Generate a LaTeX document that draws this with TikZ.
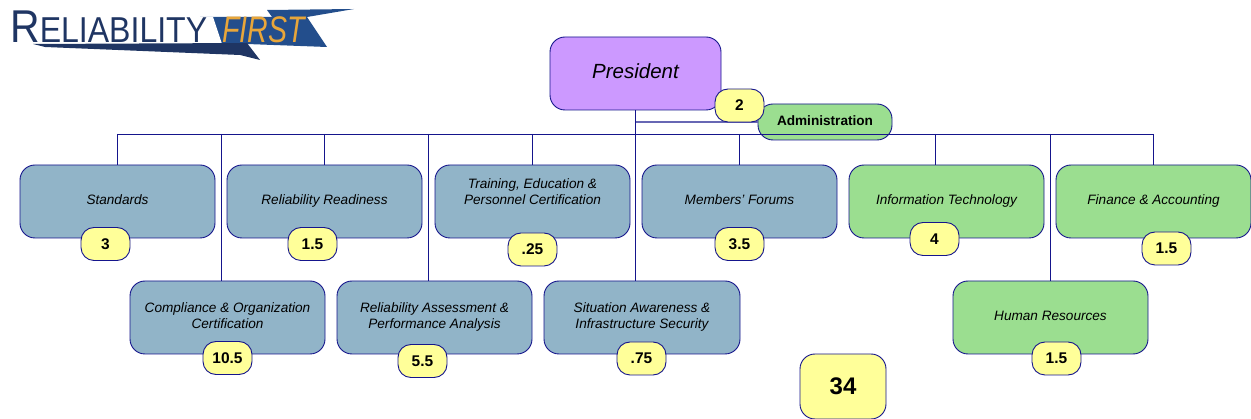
\documentclass[tikz,border=0pt]{standalone}
\usepackage{fontspec}
\usepackage{graphicx}
\setmainfont{Liberation Sans}
\definecolor{navy}{HTML}{15158C}
\definecolor{bluebox}{HTML}{91B4C8}
\definecolor{greenbox}{HTML}{9BDE90}
\definecolor{purplebox}{HTML}{CC99FF}
\definecolor{yellowbox}{HTML}{FFFF99}
\definecolor{logoblue}{HTML}{234E8C}
\definecolor{logodark}{HTML}{1F3563}
\definecolor{logoorange}{HTML}{E8A63A}
\newcommand\lblstrut{\rule[-4.6pt]{0pt}{15.6pt}}
\tikzset{
  x=1pt,y=-1pt,
  box/.style={draw=navy,line width=0.9pt,rounded corners=15pt,minimum width=195pt,minimum height=73pt,inner sep=0pt,align=center,font=\fontsize{13.6}{16}\selectfont\itshape,execute at begin node=\lblstrut,execute at end node=\lblstrut},
  bluenode/.style={box,fill=bluebox},
  greennode/.style={box,fill=greenbox},
  badge/.style={draw=navy,line width=0.9pt,fill=yellowbox,rounded corners=13pt,minimum width=49pt,minimum height=33pt,inner sep=0pt,font=\fontsize{15.5}{17}\selectfont\bfseries},
  conn/.style={draw=navy,line width=0.8pt},
  connlight/.style={draw=navy!65,line width=1.2pt}
}
\begin{document}
\begin{tikzpicture}
\useasboundingbox (0,0) rectangle (1251,419);
% logo
\fill[logoblue] (200,17) -- (307,17) -- (327,47) -- (220,43) -- cycle;
\fill[logoblue] (267,10) -- (354,9) -- (307,17) -- (272,17) -- cycle;
\fill[white] (200,17) -- (213,17) -- (222,44) -- (190,44) -- cycle;
\fill[logodark] (33,44) -- (247,43) -- (260,60) -- (240,55) -- (45,47) -- cycle;
\node[anchor=base west,inner sep=0pt,text=logodark] (logotext) at (10,43) {\scalebox{0.89}[1]{\fontsize{46}{46}\selectfont R\fontsize{36}{36}\selectfont ELIABILITY}};
\node[anchor=base west,inner sep=0pt,text=logoorange] (logofirst) at (222,43) {\scalebox{0.77}[1]{\fontsize{37}{37}\selectfont\itshape FIRST}};
% president and administration
\node[box,fill=purplebox,minimum width=171pt,font=\fontsize{20.5}{24}\selectfont\itshape] (pres) at (635.5,73.5) {President};
\node[box,fill=greenbox,minimum width=134pt,minimum height=36pt,font=\fontsize{13.6}{16}\selectfont\bfseries] (admin) at (825,122) {Administration};
% upper row
\node[bluenode] (std) at (117.5,201.5) {Standards};
\node[bluenode] (rr) at (324.5,201.5) {Reliability Readiness};
\node[bluenode] (tr) at (532.5,201.5) {Training, Education \&\\Personnel Certification\\\mbox{}};
\node[bluenode] (mf) at (739.5,201.5) {Members’ Forums};
\node[greennode] (it) at (946.5,201.5) {Information Technology};
\node[greennode] (fa) at (1153.5,201.5) {Finance \& Accounting};
% lower row
\node[bluenode] (co) at (227.5,317.5) {Compliance \& Organization\\Certification};
\node[bluenode] (ra) at (434.5,317.5) {Reliability Assessment \&\\Performance Analysis};
\node[bluenode,minimum width=196pt] (sa) at (642,317.5) {Situation Awareness \&\\Infrastructure Security};
\node[greennode] (hr) at (1050.5,317.5) {Human Resources};
% connectors
\coordinate (busl) at (std.north |- 0,134);
\coordinate (busr) at (fa.north |- 0,134);
\coordinate (busc) at (221,134);
\coordinate (busa) at (428.5,134);
\coordinate (busi) at (935,134);
\coordinate (bush) at (hr.north |- 0,134);
\path[connlight] (pres.south |- 0,122) -- (admin.west |- 0,122);
\path[conn] (busl) -- (busr);
\path[conn] (pres.south) -- (pres.south |- sa.north);
\path[conn] (busl) -- (std.north);
\path[conn] (busc) -- (busc |- co.north);
\path[conn] (rr.north |- busl) -- (rr.north);
\path[conn] (busa) -- (busa |- ra.north);
\path[conn] (tr.north |- busl) -- (tr.north);
\path[conn] (mf.north |- busl) -- (mf.north);
\path[conn] (busi) -- (busi |- it.north);
\path[conn] (bush) -- (hr.north);
\path[conn] (busr) -- (fa.north);
% badges
\node[badge] (b2) at (739.5,105.5) {2};
\node[badge] (b3) at (105.5,244) {3};
\node[badge] (b15a) at (312.5,244) {1.5};
\node[badge] (b25) at (532.5,249.5) {.25};
\node[badge] (b35) at (739.5,244) {3.5};
\node[badge] (b4) at (934.5,239) {4};
\node[badge] (b15b) at (1166.5,248.5) {1.5};
\node[badge] (b105) at (227.5,358) {10.5};
\node[badge] (b55) at (422.5,361) {5.5};
\node[badge] (b75) at (641.5,358.5) {.75};
\node[badge] (b15c) at (1056.5,358.5) {1.5};
\node[badge,minimum width=86pt,minimum height=65pt,rounded corners=15pt,font=\fontsize{24}{28}\selectfont\bfseries] (total) at (843,386.5) {34};
\end{tikzpicture}
\end{document}
